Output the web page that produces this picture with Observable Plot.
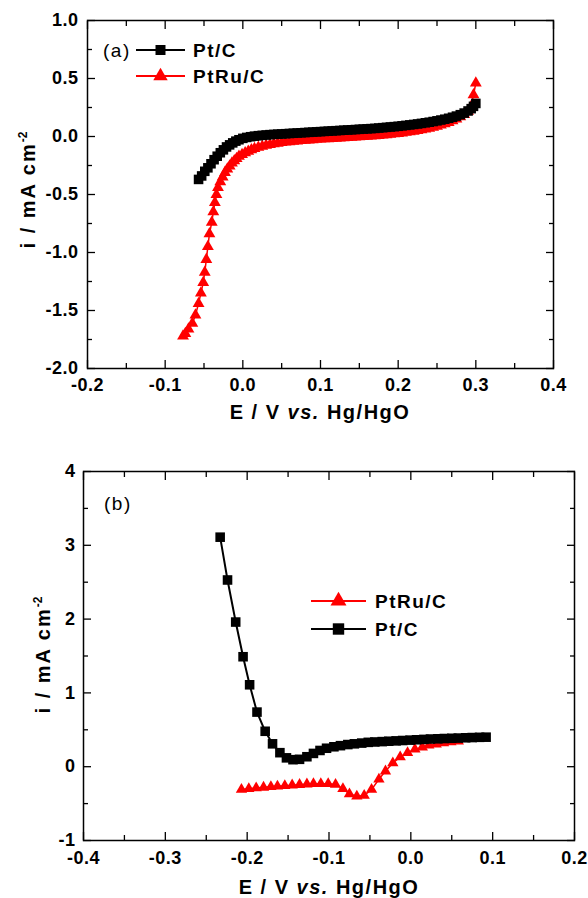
<!DOCTYPE html>
<html><head><meta charset="utf-8">
<script src="https://cdn.jsdelivr.net/npm/d3@7"></script>
<script src="https://cdn.jsdelivr.net/npm/@observablehq/plot@0.6"></script>
<style>
body{margin:0;background:#fff;}
#wrap{position:relative;width:588px;height:898px;overflow:hidden;background:#fff;}
#wrap svg{position:absolute;left:0;overflow:visible;}
</style></head><body><div id="wrap"></div>
<script>
// ---------- Panel (a) data: [E (V vs Hg/HgO), i (mA cm^-2)] ----------
const ptcA = [
[-0.057,-0.37],[-0.053,-0.34],[-0.049,-0.30],[-0.045,-0.27],[-0.041,-0.235],[-0.037,-0.20],[-0.033,-0.17],[-0.029,-0.14],[-0.025,-0.115],[-0.021,-0.09],[-0.017,-0.072],[-0.013,-0.055],[-0.009,-0.04],[-0.005,-0.028],[0.000,-0.016],[0.005,-0.008],[0.010,-0.002],[0.015,0.003],[0.020,0.007],[0.025,0.010],
[0.030,0.013],[0.035,0.016],[0.040,0.018],[0.045,0.020],[0.050,0.022],[0.055,0.024],[0.060,0.026],[0.065,0.028],[0.070,0.030],[0.075,0.032],[0.080,0.034],[0.085,0.036],[0.090,0.038],[0.095,0.040],[0.100,0.042],[0.105,0.044],[0.110,0.046],[0.115,0.048],[0.120,0.050],[0.125,0.052],[0.130,0.054],[0.135,0.056],[0.140,0.058],[0.145,0.060],[0.150,0.062],[0.155,0.064],[0.160,0.066],[0.165,0.068],[0.170,0.070],[0.175,0.073],[0.180,0.076],[0.185,0.079],[0.190,0.082],[0.195,0.085],[0.200,0.088],[0.205,0.092],[0.210,0.096],[0.215,0.100],[0.220,0.104],[0.225,0.108],[0.230,0.113],[0.235,0.118],[0.240,0.123],[0.245,0.129],[0.250,0.135],[0.255,0.142],[0.260,0.149],[0.265,0.157],[0.270,0.166],[0.275,0.176],[0.280,0.188],[0.285,0.202],[0.290,0.220],[0.294,0.240],[0.297,0.260],[0.300,0.285]
];
const ptruA = [
[-0.077,-1.72],[-0.074,-1.70],[-0.070,-1.66],[-0.065,-1.61],[-0.061,-1.54],[-0.057,-1.44],[-0.054,-1.35],[-0.051,-1.26],[-0.049,-1.17],[-0.047,-1.06],[-0.045,-0.95],[-0.043,-0.84],[-0.040,-0.74],[-0.038,-0.65],[-0.036,-0.57],[-0.034,-0.50],[-0.032,-0.44],[-0.029,-0.39],[-0.026,-0.35],[-0.023,-0.31],[-0.020,-0.28],[-0.017,-0.255],[-0.014,-0.23],[-0.011,-0.21],[-0.008,-0.19],[-0.005,-0.172],[-0.001,-0.155],[0.003,-0.14],[0.007,-0.127],[0.011,-0.115],[0.015,-0.104],[0.020,-0.093],[0.025,-0.084],[0.030,-0.076],[0.035,-0.069],[0.040,-0.063],[0.045,-0.058],[0.050,-0.053],[0.055,-0.049],[0.060,-0.045],[0.065,-0.042],[0.070,-0.039],[0.075,-0.036],[0.080,-0.033],[0.085,-0.030],[0.090,-0.028],[0.095,-0.025],[0.100,-0.023],[0.105,-0.021],[0.110,-0.019],[0.115,-0.017],[0.120,-0.015],[0.125,-0.013],[0.130,-0.011],[0.135,-0.009],[0.140,-0.007],[0.145,-0.005],[0.150,-0.003],[0.155,-0.001],[0.160,0.001],[0.165,0.003],[0.170,0.006],[0.175,0.009],[0.180,0.012],[0.185,0.015],[0.190,0.018],[0.195,0.022],[0.200,0.026],[0.205,0.030],[0.210,0.035],[0.215,0.040],[0.220,0.045],[0.225,0.051],[0.230,0.057],[0.235,0.064],[0.240,0.071],[0.245,0.079],[0.250,0.088],[0.255,0.098],[0.260,0.109],[0.265,0.121],[0.270,0.135],[0.275,0.151],[0.280,0.169],[0.285,0.190],[0.290,0.218],[0.294,0.26],[0.297,0.36],[0.300,0.46]
];
// ---------- Panel (b) data ----------
const ptcB = [
[-0.233,3.11],[-0.224,2.53],[-0.214,1.96],[-0.205,1.49],[-0.197,1.11],[-0.188,0.74],[-0.178,0.48],[-0.169,0.31],[-0.160,0.19],[-0.152,0.12],[-0.144,0.095],[-0.136,0.10],[-0.127,0.135],[-0.119,0.18],[-0.111,0.22],[-0.103,0.25],[-0.094,0.27],[-0.086,0.285],[-0.077,0.30],[-0.069,0.31],[-0.060,0.32],[-0.052,0.33],[-0.044,0.335],[-0.035,0.34],[-0.027,0.345],[-0.018,0.35],[-0.010,0.355],[-0.001,0.36],[0.007,0.365],[0.016,0.37],[0.024,0.375],[0.033,0.378],[0.041,0.382],[0.050,0.385],[0.058,0.388],[0.067,0.392],[0.075,0.395],[0.084,0.398],[0.092,0.40]
];
const ptruB = [
[-0.207,-0.31],[-0.198,-0.30],[-0.189,-0.29],[-0.180,-0.28],[-0.171,-0.272],[-0.163,-0.265],[-0.154,-0.258],[-0.145,-0.25],[-0.136,-0.243],[-0.127,-0.236],[-0.119,-0.232],[-0.110,-0.23],[-0.101,-0.23],[-0.092,-0.24],[-0.083,-0.30],[-0.075,-0.37],[-0.066,-0.40],[-0.057,-0.39],[-0.048,-0.31],[-0.039,-0.17],[-0.031,-0.06],[-0.022,0.05],[-0.013,0.13],[-0.004,0.19],[0.005,0.235],[0.014,0.265],[0.022,0.29],[0.031,0.305],[0.040,0.32],[0.049,0.335],[0.058,0.345]
];
// ---------- Ticks ----------
const xMajorA = [-0.2,-0.1,0.0,0.1,0.2,0.3,0.4];
const xMinorA = [-0.15,-0.05,0.05,0.15,0.25,0.35];
const yMajorA = [-2.0,-1.5,-1.0,-0.5,0.0,0.5,1.0];
const yMinorA = [-1.75,-1.25,-0.75,-0.25,0.25,0.75];
const xMajorB = [-0.4,-0.3,-0.2,-0.1,0.0,0.1,0.2];
const xMinorB = [-0.35,-0.25,-0.15,-0.05,0.05,0.15];
const yMajorB = [-1,0,1,2,3,4];
const yMinorB = [-0.5,0.5,1.5,2.5,3.5];
const seriesNames = {pt: "Pt/C", ptru: "PtRu/C"};
const RED = "#ff0000";
const FONT = '"Liberation Sans", Arial, Helvetica, sans-serif';

function panel(o) {
  const fx = d => d[0], fy = d => d[1];
  const tickAx = (ticks, size) => ["bottom", "top"].map(a =>
    Plot.axisX(ticks, {anchor: a, tickSize: size, tickFormat: () => "", label: null, strokeWidth: 1.3}));
  const tickAy = (ticks, size) => ["left", "right"].map(a =>
    Plot.axisY(ticks, {anchor: a, tickSize: size, tickFormat: () => "", label: null, strokeWidth: 1.3}));
  return Plot.plot({
    width: 588, height: o.height,
    marginLeft: o.ml, marginRight: o.mr, marginTop: o.mt, marginBottom: o.mb,
    x: {domain: o.xDomain}, y: {domain: o.yDomain},
    style: {fontFamily: FONT, fontSize: "18px", fontWeight: "bold", color: "black", background: "transparent", letterSpacing: "0.5px"},
    marks: [
      Plot.line(o.red, {x: fx, y: fy, stroke: RED, strokeWidth: 1.5}),
      Plot.dot(o.red, {x: fx, y: fy, symbol: "triangle", r: o.rTri, fill: RED, stroke: "none"}),
      Plot.line(o.black, {x: fx, y: fy, stroke: "black", strokeWidth: 2}),
      Plot.dot(o.black, {x: fx, y: fy, symbol: "square", r: o.rSq, fill: "black", stroke: "none"}),
      ...tickAx(o.xMajor, -8), ...tickAx(o.xMinor, -5),
      ...tickAy(o.yMajor, -8), ...tickAy(o.yMinor, -5),
      Plot.frame({stroke: "black", strokeWidth: 1.5}),
      Plot.axisX(o.xMajor, {anchor: "bottom", tickSize: 0, tickPadding: o.xPad, tickFormat: o.xFmt, label: null}),
      Plot.axisY(o.yMajor, {anchor: "left", tickSize: 0, tickPadding: o.yPad, tickFormat: o.yFmt, label: null})
    ]
  });
}

function decorate(svg, o) {
  const s = d3.select(svg);
  // y title
  const yt = s.append("text")
    .attr("transform", `translate(${o.ytx},${o.yty}) rotate(-90)`)
    .attr("text-anchor", "middle").attr("dy", "0.35em")
    .style("font-size", "20px").style("font-weight", "bold").style("letter-spacing", "2px");
  yt.append("tspan").text("i / mA cm");
  yt.append("tspan").attr("dy", "-0.65em").style("font-size", "12px").style("letter-spacing", "0px").text("-2");
  // x title
  const xt = s.append("text").attr("x", o.xtx).attr("y", o.xty).attr("text-anchor", "middle")
    .style("font-size", "20px").style("font-weight", "bold").style("letter-spacing", "1.5px").style("white-space", "pre");
  xt.append("tspan").text("E / V ");
  xt.append("tspan").style("font-style", "italic").text("vs.");
  xt.append("tspan").text(" Hg/HgO");
  // panel tag
  s.append("text").attr("x", o.tagX).attr("y", o.tagY).attr("dy", "0.35em").attr("text-anchor", "start")
    .style("font-size", "19px").style("font-weight", "normal").style("letter-spacing", "1.5px").text(o.tag);
  // legend
  o.legend.forEach(it => {
    s.append("line").attr("x1", o.lx1).attr("x2", o.lx2).attr("y1", it.y).attr("y2", it.y)
      .attr("stroke", it.color).attr("stroke-width", 2);
    s.append("path").attr("d", d3.symbol(it.sym, it.size)())
      .attr("transform", `translate(${(o.lx1 + o.lx2) / 2},${it.y})`).attr("fill", it.color);
    s.append("text").attr("x", o.ltx).attr("y", it.y).attr("dy", "0.36em").attr("text-anchor", "start")
      .style("font-size", "19px").style("font-weight", "bold").style("letter-spacing", "1.5px").text(it.label);
  });
}

const wrap = document.getElementById("wrap");
const fmt1 = d => d.toFixed(1);

const svgA = panel({
  height: 440, ml: 87, mr: 35, mt: 20, mb: 72,
  xDomain: [-0.2, 0.4], yDomain: [-2, 1],
  xMajor: xMajorA, xMinor: xMinorA, yMajor: yMajorA, yMinor: yMinorA,
  xFmt: fmt1, yFmt: fmt1, xPad: 10, yPad: 9,
  red: ptruA, black: ptcA, rTri: 4.4, rSq: 5.4
});
svgA.style.top = "0px";
wrap.appendChild(svgA);
decorate(svgA, {
  ytx: 28, yty: 190, xtx: 320, xty: 419, tag: "(a)", tagX: 103, tagY: 50,
  lx1: 136, lx2: 185, ltx: 193,
  legend: [
    {y: 50, color: "black", sym: d3.symbolSquare, size: 100, label: seriesNames.pt},
    {y: 76, color: RED, sym: d3.symbolTriangle, size: 90, label: seriesNames.ptru}
  ]
});

const svgB = panel({
  height: 458, ml: 83, mr: 14, mt: 31, mb: 58,
  xDomain: [-0.4, 0.2], yDomain: [-1, 4],
  xMajor: xMajorB, xMinor: xMinorB, yMajor: yMajorB, yMinor: yMinorB,
  xFmt: fmt1, yFmt: d => String(d), xPad: 11, yPad: 8,
  red: ptruB, black: ptcB, rTri: 4.2, rSq: 5.4
});
svgB.style.top = "440px";
wrap.appendChild(svgB);
decorate(svgB, {
  ytx: 43, yty: 215, xtx: 329, xty: 454, tag: "(b)", tagX: 104, tagY: 63,
  lx1: 311, lx2: 366, ltx: 375,
  legend: [
    {y: 161, color: RED, sym: d3.symbolTriangle, size: 110, label: seriesNames.ptru},
    {y: 189, color: "black", sym: d3.symbolSquare, size: 130, label: seriesNames.pt}
  ]
});
</script></body></html>
